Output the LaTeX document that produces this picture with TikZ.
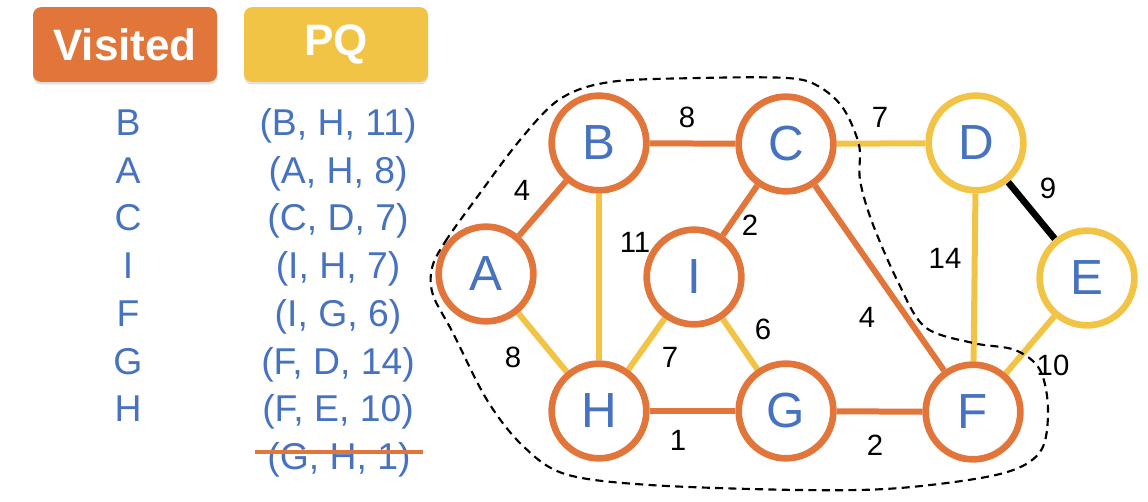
\documentclass[tikz,border=0pt]{standalone}
\usepackage{fontspec}
\setmainfont{Liberation Sans}
\usetikzlibrary{backgrounds,shadows}
\definecolor{vorange}{RGB}{225,117,58}
\definecolor{pqyellow}{RGB}{242,196,70}
\definecolor{txtblue}{RGB}{70,114,192}
\begin{document}
\begin{tikzpicture}[x=0.75pt,y=-0.75pt,
  vnode/.style={circle,draw=vorange,fill=white,line width=5pt,minimum size=71pt,inner sep=0pt,text=txtblue,font=\fontsize{37}{40}\selectfont},
  pnode/.style={vnode,draw=pqyellow},
  oedge/.style={draw=vorange,line width=4.5pt},
  yedge/.style={draw=pqyellow,line width=4.5pt},
  kedge/.style={draw=black,line width=5pt},
  wlab/.style={font=\fontsize{22}{24}\selectfont,inner sep=0pt},
  hdr/.style={rounded corners=6pt,minimum width=138pt,minimum height=56pt,inner sep=0pt,text=white,font=\fontsize{33}{36}\selectfont\bfseries,drop shadow={shadow xshift=0pt,shadow yshift=-2pt,opacity=0.25}},
  listtxt/.style={text=txtblue,font=\fontsize{28}{32}\selectfont,anchor=base,inner sep=0pt},
  strike/.style={draw=vorange,line width=3pt},
  boundary/.style={draw=black,line width=1.6pt,dash pattern=on 6pt off 4pt}]
\useasboundingbox (0,0) rectangle (1148,502);

% headers
\node[hdr,fill=vorange] (hv) at (125,44.5) {Visited};
\node[hdr,fill=pqyellow] (hp) at (336,44.5) {PQ};

% visited list
\node[listtxt] (v1) at (128,135.5) {B};
\node[listtxt] (v2) at (128,183.2) {A};
\node[listtxt] (v3) at (128,230.9) {C};
\node[listtxt] (v4) at (128,278.6) {I};
\node[listtxt] (v5) at (128,326.3) {F};
\node[listtxt] (v6) at (128,374) {G};
\node[listtxt] (v7) at (128,421.7) {H};

% PQ list
\node[listtxt] (p1) at (338,135.5) {(B, H, 11)};
\node[listtxt] (p2) at (338,183.2) {(A, H, 8)};
\node[listtxt] (p3) at (338,230.9) {(C, D, 7)};
\node[listtxt] (p4) at (338,278.6) {(I, H, 7)};
\node[listtxt] (p5) at (338,326.3) {(I, G, 6)};
\node[listtxt] (p6) at (338,374) {(F, D, 14)};
\node[listtxt] (p7) at (338,421.7) {(F, E, 10)};
\node[listtxt] (p8) at (339,469.4) {(G, H, 1)};
\draw[strike] ([shift={(-12,-17)}]p8.base west) -- ([shift={(12,-17)}]p8.base east);

% graph nodes
\node[vnode] (A) at (486,274) {A};
\node[vnode] (B) at (599,143) {B};
\node[vnode] (C) at (786,144) {C};
\node[pnode] (D) at (976,143) {D};
\node[pnode] (E) at (1087,278) {E};
\node[vnode] (I) at (694,277) {I};
\node[vnode] (H) at (599,411) {H};
\node[vnode] (G) at (786,411) {G};
\node[vnode] (F) at (973,412) {F};

\begin{scope}[on background layer]
  \draw[oedge] (A) -- (B);
  \draw[oedge] (B) -- (C);
  \draw[yedge] (C) -- (D);
  \draw[kedge] (D) -- (E);
  \draw[yedge] (B) -- (H);
  \draw[oedge] (C) -- (I);
  \draw[oedge] (C) -- (F);
  \draw[yedge] (D) -- (F);
  \draw[yedge] (E) -- (F);
  \draw[yedge] (A) -- (H);
  \draw[yedge] (H) -- (I);
  \draw[yedge] (I) -- (G);
  \draw[oedge] (H) -- (G);
  \draw[oedge] (G) -- (F);
\end{scope}

% weights
\node[wlab] (wAB) at (522,190) {4};
\node[wlab] (wBC) at (687,117) {8};
\node[wlab] (wCD) at (880,117) {7};
\node[wlab] (wDE) at (1048,188) {9};
\node[wlab] (wBH) at (635,242) {11};
\node[wlab] (wCI) at (750,225) {2};
\node[wlab] (wCF) at (867,317) {4};
\node[wlab] (wDF) at (945,258) {14};
\node[wlab] (wEF) at (1053,365) {10};
\node[wlab] (wAH) at (513,357) {8};
\node[wlab] (wHI) at (670,357) {7};
\node[wlab] (wIG) at (763,329) {6};
\node[wlab] (wHG) at (678,440) {1};
\node[wlab] (wGF) at (875,445) {2};

% visited boundary
\draw[boundary] plot[smooth cycle,tension=0.55] coordinates {
  (432,268) (445,242) (475,200) (520,140) (560,99) (610,82) (700,78) (787,78)
  (818,86) (843,108) (859,145) (860,180) (872,222) (898,282) (925,327)
  (973,343) (1015,350) (1040,370) (1048,410) (1040,452) (1000,474) (900,488)
  (800,490) (650,485) (565,474) (522,445) (487,400) (453,333) (433,295)};
\end{tikzpicture}
\end{document}
